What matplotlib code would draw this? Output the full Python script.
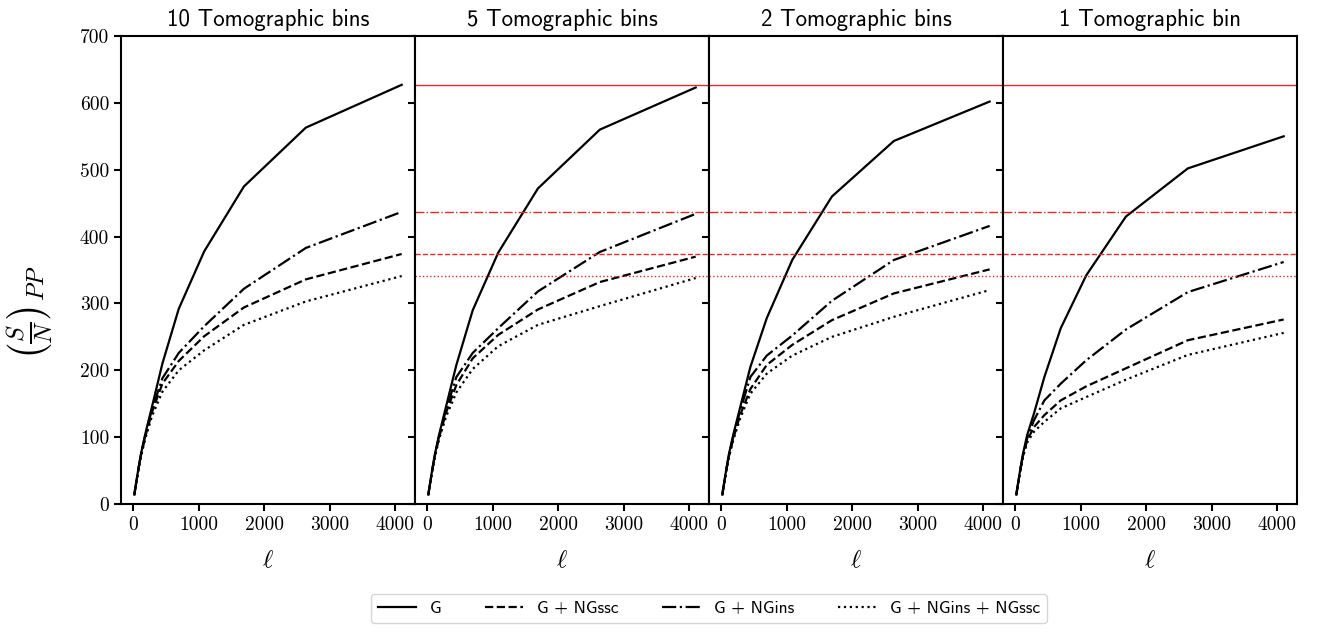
import matplotlib
matplotlib.use('Agg')
from matplotlib import pyplot as plt

plt.rcParams['mathtext.fontset'] = 'cm'
plt.rcParams['axes.linewidth'] = 1.5

ells = [20, 31, 49, 76, 118, 184, 287, 447, 697, 1086, 1692, 2637, 4100]

# 10 tomographic bins
g_10 = [14, 22, 33, 50, 74, 104, 145, 210, 292, 378, 475, 563, 627]
ssc_10 = [14, 22, 33, 49, 72, 100, 137, 180, 214, 251, 294, 336, 374]
ins_10 = [14, 22, 33, 49, 73, 102, 141, 188, 226, 266, 322, 383, 437]
both_10 = [14, 22, 32, 48, 70, 97, 131, 168, 200, 230, 268, 303, 341]

# 5 tomographic bins
g_5 = [14, 22, 33, 50, 74, 104, 145, 208, 290, 376, 472, 560, 623]
ssc_5 = [14, 22, 33, 49, 72, 100, 136, 178, 218, 253, 291, 332, 370]
ins_5 = [14, 22, 33, 49, 73, 102, 140, 190, 226, 263, 318, 377, 434]
both_5 = [14, 22, 32, 48, 70, 97, 130, 167, 202, 236, 268, 296, 338]

# 2 tomographic bins
g_2 = [14, 22, 33, 50, 74, 103, 143, 205, 278, 365, 460, 543, 602]
ssc_2 = [14, 22, 33, 49, 71, 97, 132, 172, 208, 238, 275, 315, 351]
ins_2 = [14, 22, 33, 49, 72, 100, 138, 190, 222, 252, 304, 365, 416]
both_2 = [14, 22, 32, 48, 69, 95, 127, 165, 195, 222, 250, 280, 320]

# 1 tomographic bin
g_1 = [14, 22, 33, 50, 74, 103, 135, 190, 263, 342, 430, 502, 550]
ssc_1 = [14, 22, 33, 49, 71, 95, 115, 133, 155, 176, 203, 245, 276]
ins_1 = [14, 22, 33, 49, 72, 98, 125, 155, 180, 215, 261, 317, 362]
both_1 = [14, 22, 32, 48, 69, 92, 108, 123, 143, 160, 186, 223, 256]

titles = ['10 Tomographic bins', '5 Tomographic bins', '2 Tomographic bins', '1 Tomographic bin']
panels = [(g_10, ssc_10, ins_10, both_10),
          (g_5, ssc_5, ins_5, both_5),
          (g_2, ssc_2, ins_2, both_2),
          (g_1, ssc_1, ins_1, both_1)]
labels = ['G', 'G + NGssc', 'G + NGins', 'G + NGins + NGssc']
styles = ['-', '--', '-.', ':']

fig, axes = plt.subplots(1, 4, sharey=True, figsize=(13.2, 6.32), dpi=100)
fig.subplots_adjust(left=0.0917, right=0.9826, top=0.943, bottom=0.2025, wspace=0)

for i, ax in enumerate(axes):
    for series, ls, lab in zip(panels[i], styles, labels):
        ax.plot(ells, series, ls, color='black', lw=1.6, label=lab)
    if i > 0:
        # reference levels from the 10-bin case
        ref = panels[0]
        for series, ls in zip(ref, styles):
            ax.axhline(series[-1], color='#e8292b', lw=1.0, ls=ls)
    ax.set_title(titles[i], family='cmss10', fontsize=16.5, pad=7)
    ax.set_xlabel(r'$\ell$', fontsize=18, labelpad=10)
    ax.set_ylim(0, 700)
    ax.set_xticks([0, 1000, 2000, 3000, 4000])
    ax.tick_params(width=1.5, length=5, labelsize=14)
    for t in ax.get_xticklabels() + ax.get_yticklabels():
        t.set_family('cmr10')

axes[0].set_yticks(range(0, 701, 100))
for t in axes[0].get_yticklabels():
    t.set_family('cmr10')
axes[0].set_ylabel(r'$\left(\frac{S}{N}\right)_{PP}$', fontsize=25)
axes[0].yaxis.set_label_coords(-0.225, 0.41)

handles, labs = axes[0].get_legend_handles_labels()
fig.legend(handles, labs, loc='lower center', bbox_to_anchor=(0.537, 0.0), ncol=4,
           prop={'family': 'cmss10', 'size': 12.5}, columnspacing=2.5, handlelength=2.2)

fig.savefig('out.png', dpi=100)
